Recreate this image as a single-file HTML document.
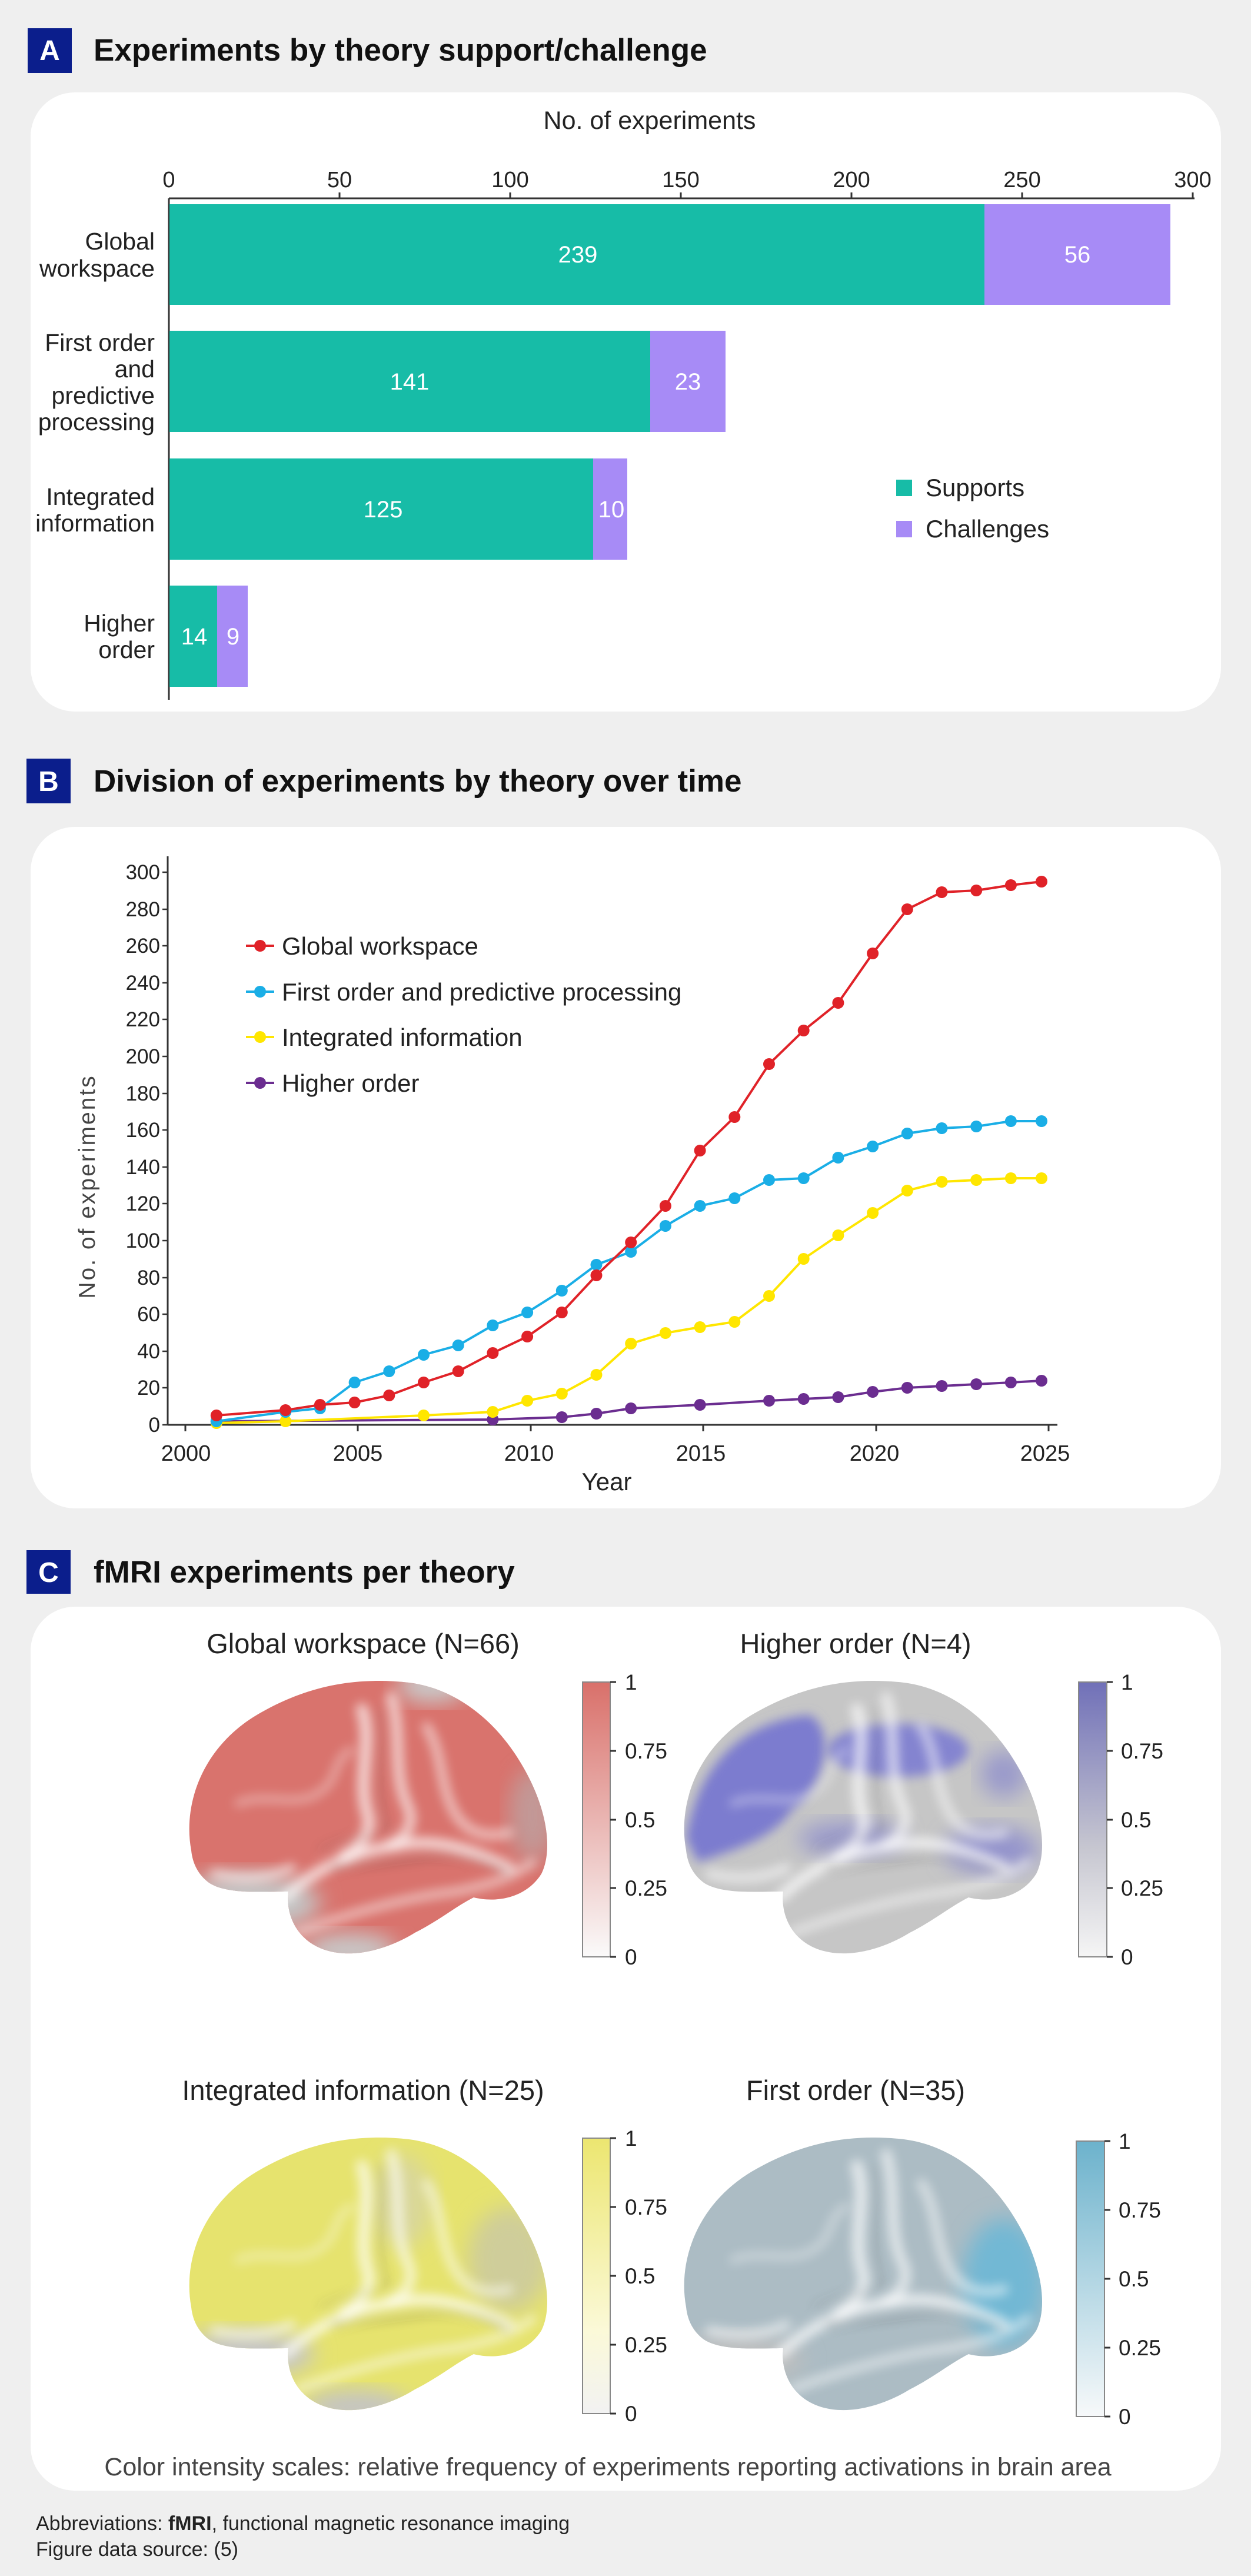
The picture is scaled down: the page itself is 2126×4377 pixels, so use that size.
<!DOCTYPE html>
<html><head><meta charset="utf-8"><style>
html,body{margin:0;padding:0;background:#efefef;}
svg{display:block}
text{font-family:"Liberation Sans",sans-serif;}
</style></head><body>
<svg width="2126" height="4377" viewBox="0 0 2126 4377" xmlns="http://www.w3.org/2000/svg">
<defs>
<clipPath id="brain" clipPathUnits="userSpaceOnUse">
<path d="M 20 300 C 5 220, 40 120, 140 65 C 220 20, 300 5, 390 15 C 470 25, 540 80, 585 160 C 625 230, 635 300, 615 340 C 590 380, 540 390, 500 380 C 470 395, 440 420, 400 440 C 360 465, 300 485, 250 470 C 200 455, 180 410, 185 370 C 140 370, 80 375, 50 355 C 30 340, 22 320, 20 300 Z"/>
</clipPath>
<filter id="bl" x="-20%" y="-20%" width="140%" height="140%"><feGaussianBlur stdDeviation="9"/></filter>
<filter id="bl2" x="-20%" y="-20%" width="140%" height="140%"><feGaussianBlur stdDeviation="18"/></filter>
<g id="gyri">
<g filter="url(#bl)" fill="none" stroke-linecap="round">
<path d="M 180 380 C 230 330, 300 300, 380 290 C 440 280, 500 300, 560 330" stroke="#fff" stroke-width="18" opacity="0.75"/>
<path d="M 200 440 C 280 410, 380 380, 470 370 C 520 360, 560 350, 600 320" stroke="#fff" stroke-width="14" opacity="0.55"/>
<path d="M 310 60 C 330 120, 300 180, 320 240 C 330 270, 300 300, 280 310" stroke="#fff" stroke-width="20" opacity="0.7"/>
<path d="M 360 40 C 380 110, 360 170, 390 230 C 400 260, 380 280, 360 290" stroke="#fff" stroke-width="18" opacity="0.65"/>
<path d="M 420 90 C 450 140, 440 190, 470 240 C 490 270, 520 280, 560 270" stroke="#fff" stroke-width="16" opacity="0.55"/>
<path d="M 100 220 C 150 200, 200 230, 240 200 C 270 180, 260 150, 290 130" stroke="#fff" stroke-width="14" opacity="0.35"/>
<path d="M 60 340 C 100 350, 150 350, 190 330" stroke="#fff" stroke-width="16" opacity="0.6"/>
<path d="M 260 330 C 320 320, 360 320, 420 310 C 470 305, 520 315, 560 340" stroke="#333" stroke-width="6" opacity="0.35"/>
<path d="M 340 60 C 350 130, 330 190, 350 260" stroke="#555" stroke-width="6" opacity="0.3"/>
<path d="M 240 300 C 300 270, 340 280, 360 260" stroke="#555" stroke-width="5" opacity="0.25"/>
</g>
</g>
</defs>

<!-- Panel A -->
<rect x="47" y="48" width="75" height="76" fill="#0b1e8c"/>
<text x="84.5" y="102" font-size="48" font-weight="bold" fill="#fff" text-anchor="middle">A</text>
<text x="159" y="103" font-size="53" font-weight="bold" fill="#111">Experiments by theory support/challenge</text>
<rect x="52" y="157" width="2023" height="1052" rx="75" fill="#fff"/>
<text x="1104" y="219" font-size="43" fill="#222" text-anchor="middle">No. of experiments</text>
<g font-size="38" fill="#222" text-anchor="middle">
<text x="287" y="318">0</text><text x="577" y="318">50</text><text x="867" y="318">100</text><text x="1157" y="318">150</text><text x="1447" y="318">200</text><text x="1737" y="318">250</text><text x="2027" y="318">300</text>
</g>
<g stroke="#333" stroke-width="3">
<line x1="287" y1="337" x2="2030" y2="337"/>
<line x1="287" y1="337" x2="287" y2="1189"/>
<line x1="577" y1="327" x2="577" y2="337"/><line x1="867" y1="327" x2="867" y2="337"/><line x1="1157" y1="327" x2="1157" y2="337"/><line x1="1447" y1="327" x2="1447" y2="337"/><line x1="1737" y1="327" x2="1737" y2="337"/><line x1="2027" y1="327" x2="2027" y2="337"/>
</g>
<rect x="288" y="347" width="1385" height="171" fill="#17bca7"/><rect x="1673" y="347" width="316" height="171" fill="#a78bf6"/>
<rect x="288" y="562" width="817" height="172" fill="#17bca7"/><rect x="1105" y="562" width="128" height="172" fill="#a78bf6"/>
<rect x="288" y="779" width="720" height="172" fill="#17bca7"/><rect x="1008" y="779" width="58" height="172" fill="#a78bf6"/>
<rect x="288" y="995" width="81" height="172" fill="#17bca7"/><rect x="369" y="995" width="52" height="172" fill="#a78bf6"/>
<g font-size="40" fill="#fff" text-anchor="middle">
<text x="982" y="446">239</text><text x="1831" y="446">56</text>
<text x="696" y="662">141</text><text x="1169" y="662">23</text>
<text x="651" y="879">125</text><text x="1039" y="879">10</text>
<text x="330" y="1095">14</text><text x="396" y="1095">9</text>
</g>
<g font-size="41" fill="#222" text-anchor="end">
<text x="263" y="424">Global</text><text x="263" y="470">workspace</text>
<text x="263" y="596">First order</text><text x="263" y="641">and</text><text x="263" y="686">predictive</text><text x="263" y="731">processing</text>
<text x="263" y="858">Integrated</text><text x="263" y="903">information</text>
<text x="263" y="1073">Higher</text><text x="263" y="1118">order</text>
</g>
<rect x="1523" y="815" width="27" height="28" fill="#17bca7"/>
<text x="1573" y="843" font-size="42" fill="#222">Supports</text>
<rect x="1523" y="885" width="27" height="28" fill="#a78bf6"/>
<text x="1573" y="913" font-size="42" fill="#222">Challenges</text>

<!-- Panel B -->
<rect x="45" y="1289" width="75" height="76" fill="#0b1e8c"/>
<text x="82.5" y="1344" font-size="48" font-weight="bold" fill="#fff" text-anchor="middle">B</text>
<text x="159" y="1345" font-size="53" font-weight="bold" fill="#111">Division of experiments by theory over time</text>
<rect x="52" y="1405" width="2023" height="1158" rx="75" fill="#fff"/>
<g stroke="#333" stroke-width="3">
<line x1="285" y1="1455" x2="285" y2="2421"/>
<line x1="285" y1="2421" x2="1797" y2="2421"/>
<line x1="315" y1="2421" x2="315" y2="2432"/><line x1="608" y1="2421" x2="608" y2="2432"/><line x1="902" y1="2421" x2="902" y2="2432"/><line x1="1195" y1="2421" x2="1195" y2="2432"/><line x1="1489" y1="2421" x2="1489" y2="2432"/><line x1="1782" y1="2421" x2="1782" y2="2432"/>
<g stroke-width="2.5">
<line x1="276" y1="2421" x2="285" y2="2421"/><line x1="276" y1="2358" x2="285" y2="2358"/><line x1="276" y1="2296" x2="285" y2="2296"/><line x1="276" y1="2233" x2="285" y2="2233"/><line x1="276" y1="2171" x2="285" y2="2171"/><line x1="276" y1="2108" x2="285" y2="2108"/><line x1="276" y1="2045" x2="285" y2="2045"/><line x1="276" y1="1983" x2="285" y2="1983"/><line x1="276" y1="1920" x2="285" y2="1920"/><line x1="276" y1="1858" x2="285" y2="1858"/><line x1="276" y1="1795" x2="285" y2="1795"/><line x1="276" y1="1732" x2="285" y2="1732"/><line x1="276" y1="1670" x2="285" y2="1670"/><line x1="276" y1="1607" x2="285" y2="1607"/><line x1="276" y1="1545" x2="285" y2="1545"/><line x1="276" y1="1482" x2="285" y2="1482"/>
</g>
</g>
<g font-size="35" fill="#222" text-anchor="end">
<text x="272" y="2433">0</text><text x="272" y="2370">20</text><text x="272" y="2308">40</text><text x="272" y="2245">60</text><text x="272" y="2183">80</text><text x="272" y="2120">100</text><text x="272" y="2057">120</text><text x="272" y="1995">140</text><text x="272" y="1932">160</text><text x="272" y="1870">180</text><text x="272" y="1807">200</text><text x="272" y="1744">220</text><text x="272" y="1682">240</text><text x="272" y="1619">260</text><text x="272" y="1557">280</text><text x="272" y="1494">300</text>
</g>
<g font-size="38" fill="#222" text-anchor="middle">
<text x="316" y="2482">2000</text><text x="608" y="2482">2005</text><text x="899" y="2482">2010</text><text x="1191" y="2482">2015</text><text x="1486" y="2482">2020</text><text x="1776" y="2482">2025</text>
<text x="1031" y="2532" font-size="42">Year</text>
</g>
<text transform="translate(161,2016) rotate(-90)" font-size="39" fill="#444" text-anchor="middle" letter-spacing="3">No. of experiments</text>

<g fill="none" stroke-width="4">
<polyline stroke="#6b2d90" points="367.8,2415 837.4,2412 954.8,2408 1013.5,2402 1072.2,2393 1189.6,2387 1307,2380 1365.7,2377 1424.4,2374 1483.1,2365 1541.8,2358 1600.5,2355 1659.2,2352 1717.9,2349 1770,2346"/>
<polyline stroke="#ffe600" points="367.8,2418 485.2,2415 720,2405 837.4,2399 896.1,2380 954.8,2368 1013.5,2336 1072.2,2283 1130.9,2265 1189.6,2255 1248.3,2246 1307,2202 1365.7,2139 1424.4,2099 1483.1,2061 1541.8,2023 1600.5,2008 1659.2,2005 1717.9,2002 1770,2002"/>
<polyline stroke="#1aaee6" points="367.8,2415 485.2,2399 543.9,2393 602.6,2349 661.3,2330 720,2302 778.7,2286 837.4,2252 896.1,2230 954.8,2193 1013.5,2149 1072.2,2127 1130.9,2083 1189.6,2049 1248.3,2036 1307,2005 1365.7,2002 1424.4,1967 1483.1,1948 1541.8,1926 1600.5,1917 1659.2,1914 1717.9,1905 1770,1905"/>
<polyline stroke="#e02228" points="367.8,2405 485.2,2396 543.9,2387 602.6,2383 661.3,2371 720,2349 778.7,2330 837.4,2299 896.1,2271 954.8,2230 1013.5,2167 1072.2,2111 1130.9,2049 1189.6,1955 1248.3,1898 1307,1808 1365.7,1751 1424.4,1704 1483.1,1620 1541.8,1545 1600.5,1516 1659.2,1513 1717.9,1504 1770,1498"/>
</g>
<g fill="#6b2d90">
<circle cx="367.8" cy="2415" r="10"/><circle cx="837.4" cy="2412" r="10"/><circle cx="954.8" cy="2408" r="10"/><circle cx="1013.5" cy="2402" r="10"/><circle cx="1072.2" cy="2393" r="10"/><circle cx="1189.6" cy="2387" r="10"/><circle cx="1307" cy="2380" r="10"/><circle cx="1365.7" cy="2377" r="10"/><circle cx="1424.4" cy="2374" r="10"/><circle cx="1483.1" cy="2365" r="10"/><circle cx="1541.8" cy="2358" r="10"/><circle cx="1600.5" cy="2355" r="10"/><circle cx="1659.2" cy="2352" r="10"/><circle cx="1717.9" cy="2349" r="10"/><circle cx="1770" cy="2346" r="10"/>
</g>
<g fill="#ffe600">
<circle cx="367.8" cy="2418" r="10"/><circle cx="485.2" cy="2415" r="10"/><circle cx="720" cy="2405" r="10"/><circle cx="837.4" cy="2399" r="10"/><circle cx="896.1" cy="2380" r="10"/><circle cx="954.8" cy="2368" r="10"/><circle cx="1013.5" cy="2336" r="10"/><circle cx="1072.2" cy="2283" r="10"/><circle cx="1130.9" cy="2265" r="10"/><circle cx="1189.6" cy="2255" r="10"/><circle cx="1248.3" cy="2246" r="10"/><circle cx="1307" cy="2202" r="10"/><circle cx="1365.7" cy="2139" r="10"/><circle cx="1424.4" cy="2099" r="10"/><circle cx="1483.1" cy="2061" r="10"/><circle cx="1541.8" cy="2023" r="10"/><circle cx="1600.5" cy="2008" r="10"/><circle cx="1659.2" cy="2005" r="10"/><circle cx="1717.9" cy="2002" r="10"/><circle cx="1770" cy="2002" r="10"/>
</g>
<g fill="#1aaee6">
<circle cx="367.8" cy="2415" r="10"/><circle cx="485.2" cy="2399" r="10"/><circle cx="543.9" cy="2393" r="10"/><circle cx="602.6" cy="2349" r="10"/><circle cx="661.3" cy="2330" r="10"/><circle cx="720" cy="2302" r="10"/><circle cx="778.7" cy="2286" r="10"/><circle cx="837.4" cy="2252" r="10"/><circle cx="896.1" cy="2230" r="10"/><circle cx="954.8" cy="2193" r="10"/><circle cx="1013.5" cy="2149" r="10"/><circle cx="1072.2" cy="2127" r="10"/><circle cx="1130.9" cy="2083" r="10"/><circle cx="1189.6" cy="2049" r="10"/><circle cx="1248.3" cy="2036" r="10"/><circle cx="1307" cy="2005" r="10"/><circle cx="1365.7" cy="2002" r="10"/><circle cx="1424.4" cy="1967" r="10"/><circle cx="1483.1" cy="1948" r="10"/><circle cx="1541.8" cy="1926" r="10"/><circle cx="1600.5" cy="1917" r="10"/><circle cx="1659.2" cy="1914" r="10"/><circle cx="1717.9" cy="1905" r="10"/><circle cx="1770" cy="1905" r="10"/>
</g>
<g fill="#e02228">
<circle cx="367.8" cy="2405" r="10"/><circle cx="485.2" cy="2396" r="10"/><circle cx="543.9" cy="2387" r="10"/><circle cx="602.6" cy="2383" r="10"/><circle cx="661.3" cy="2371" r="10"/><circle cx="720" cy="2349" r="10"/><circle cx="778.7" cy="2330" r="10"/><circle cx="837.4" cy="2299" r="10"/><circle cx="896.1" cy="2271" r="10"/><circle cx="954.8" cy="2230" r="10"/><circle cx="1013.5" cy="2167" r="10"/><circle cx="1072.2" cy="2111" r="10"/><circle cx="1130.9" cy="2049" r="10"/><circle cx="1189.6" cy="1955" r="10"/><circle cx="1248.3" cy="1898" r="10"/><circle cx="1307" cy="1808" r="10"/><circle cx="1365.7" cy="1751" r="10"/><circle cx="1424.4" cy="1704" r="10"/><circle cx="1483.1" cy="1620" r="10"/><circle cx="1541.8" cy="1545" r="10"/><circle cx="1600.5" cy="1516" r="10"/><circle cx="1659.2" cy="1513" r="10"/><circle cx="1717.9" cy="1504" r="10"/><circle cx="1770" cy="1498" r="10"/>
</g>
<!-- legend -->
<g stroke-width="4">
<line x1="418" y1="1607" x2="466" y2="1607" stroke="#e02228"/><circle cx="442" cy="1607" r="10" fill="#e02228"/>
<line x1="418" y1="1685" x2="466" y2="1685" stroke="#1aaee6"/><circle cx="442" cy="1685" r="10" fill="#1aaee6"/>
<line x1="418" y1="1762" x2="466" y2="1762" stroke="#ffe600"/><circle cx="442" cy="1762" r="10" fill="#ffe600"/>
<line x1="418" y1="1840" x2="466" y2="1840" stroke="#6b2d90"/><circle cx="442" cy="1840" r="10" fill="#6b2d90"/>
</g>
<g font-size="42" fill="#222">
<text x="479" y="1622">Global workspace</text>
<text x="479" y="1700">First order and predictive processing</text>
<text x="479" y="1777">Integrated information</text>
<text x="479" y="1855">Higher order</text>
</g>

<!-- Panel C -->
<rect x="45" y="2634" width="75" height="74" fill="#0b1e8c"/>
<text x="82.5" y="2688" font-size="48" font-weight="bold" fill="#fff" text-anchor="middle">C</text>
<text x="159" y="2689" font-size="53" font-weight="bold" fill="#111">fMRI experiments per theory</text>
<rect x="52" y="2730" width="2023" height="1502" rx="75" fill="#fff"/>
<g font-size="47" fill="#222" text-anchor="middle">
<text x="617" y="2809">Global workspace (N=66)</text>
<text x="1454" y="2809">Higher order (N=4)</text>
<text x="617" y="3568">Integrated information (N=25)</text>
<text x="1454" y="3568">First order (N=35)</text>
</g>

<!-- Brain 1 red -->
<g transform="translate(305,2844)">
<g clip-path="url(#brain)">
<rect x="0" y="0" width="640" height="490" fill="#d9736d"/>
<ellipse cx="110" cy="390" rx="130" ry="50" fill="#c4c4c4" filter="url(#bl2)"/>
<ellipse cx="290" cy="470" rx="80" ry="30" fill="#c8c8c8" filter="url(#bl2)"/>
<ellipse cx="600" cy="240" rx="40" ry="80" fill="#b9a9a9" filter="url(#bl2)" opacity="0.7"/>
<ellipse cx="430" cy="20" rx="60" ry="30" fill="#c9c9c9" filter="url(#bl2)"/>
<use href="#gyri"/>
</g>
</g>
<!-- Brain 2 purple -->
<g transform="translate(1146,2844)">
<g clip-path="url(#brain)">
<rect x="0" y="0" width="640" height="490" fill="#c6c6c6"/>
<path d="M 20 280 C 40 150, 120 80, 230 70 C 280 100, 250 200, 200 230 C 170 280, 100 300, 40 320 Z" fill="#7c7ccf" filter="url(#bl)"/>
<ellipse cx="380" cy="130" rx="120" ry="45" fill="#8484d0" filter="url(#bl)"/>
<ellipse cx="300" cy="280" rx="90" ry="30" fill="#9a9acb" filter="url(#bl2)"/>
<ellipse cx="540" cy="300" rx="80" ry="40" fill="#9494cc" filter="url(#bl2)"/>
<ellipse cx="560" cy="170" rx="40" ry="40" fill="#9a9acb" filter="url(#bl2)"/>
<use href="#gyri"/>
</g>
</g>
<!-- Brain 3 yellow -->
<g transform="translate(305,3620)">
<g clip-path="url(#brain)">
<rect x="0" y="0" width="640" height="490" fill="#e6e36e"/>
<ellipse cx="110" cy="380" rx="120" ry="40" fill="#c6c6c6" filter="url(#bl2)"/>
<ellipse cx="300" cy="470" rx="90" ry="30" fill="#c4c4c4" filter="url(#bl2)"/>
<ellipse cx="560" cy="220" rx="70" ry="90" fill="#cfcd9a" filter="url(#bl2)"/>
<ellipse cx="380" cy="120" rx="50" ry="80" fill="#d9d79a" filter="url(#bl2)"/>
<use href="#gyri"/>
</g>
</g>
<!-- Brain 4 blue-gray -->
<g transform="translate(1146,3620)">
<g clip-path="url(#brain)">
<rect x="0" y="0" width="640" height="490" fill="#acbcc4"/>
<ellipse cx="560" cy="260" rx="70" ry="110" fill="#72b8d4" filter="url(#bl2)"/>
<ellipse cx="100" cy="390" rx="120" ry="40" fill="#bfbfbf" filter="url(#bl2)"/>
<use href="#gyri"/>
</g>
</g>

<!-- colorbars -->
<defs>
<linearGradient id="cr" x1="0" y1="1" x2="0" y2="0"><stop offset="0" stop-color="#fafafa"/><stop offset="1" stop-color="#d9706a"/></linearGradient>
<linearGradient id="cp" x1="0" y1="1" x2="0" y2="0"><stop offset="0" stop-color="#f5f5f5"/><stop offset="0.4" stop-color="#c6c6d0"/><stop offset="1" stop-color="#7070b8"/></linearGradient>
<linearGradient id="cy" x1="0" y1="1" x2="0" y2="0"><stop offset="0" stop-color="#f2f2f2"/><stop offset="0.3" stop-color="#fbf9d8"/><stop offset="1" stop-color="#ece670"/></linearGradient>
<linearGradient id="cb" x1="0" y1="1" x2="0" y2="0"><stop offset="0" stop-color="#f7f9fa"/><stop offset="1" stop-color="#6cb2cc"/></linearGradient>
</defs>
<g stroke="#888" stroke-width="2">
<rect x="990" y="2858" width="47" height="467" fill="url(#cr)"/>
<rect x="1833" y="2858" width="48" height="467" fill="url(#cp)"/>
<rect x="990" y="3633" width="47" height="468" fill="url(#cy)"/>
<rect x="1829" y="3638" width="48" height="468" fill="url(#cb)"/>
</g>
<g stroke="#333" stroke-width="3">
<line x1="1037" y1="2858" x2="1047" y2="2858"/><line x1="1037" y1="2975" x2="1047" y2="2975"/><line x1="1037" y1="3092" x2="1047" y2="3092"/><line x1="1037" y1="3208" x2="1047" y2="3208"/><line x1="1037" y1="3325" x2="1047" y2="3325"/>
<line x1="1881" y1="2858" x2="1891" y2="2858"/><line x1="1881" y1="2975" x2="1891" y2="2975"/><line x1="1881" y1="3092" x2="1891" y2="3092"/><line x1="1881" y1="3208" x2="1891" y2="3208"/><line x1="1881" y1="3325" x2="1891" y2="3325"/>
<line x1="1037" y1="3633" x2="1047" y2="3633"/><line x1="1037" y1="3750" x2="1047" y2="3750"/><line x1="1037" y1="3867" x2="1047" y2="3867"/><line x1="1037" y1="3984" x2="1047" y2="3984"/><line x1="1037" y1="4101" x2="1047" y2="4101"/>
<line x1="1877" y1="3638" x2="1887" y2="3638"/><line x1="1877" y1="3755" x2="1887" y2="3755"/><line x1="1877" y1="3872" x2="1887" y2="3872"/><line x1="1877" y1="3989" x2="1887" y2="3989"/><line x1="1877" y1="4106" x2="1887" y2="4106"/>
</g>
<g font-size="37" fill="#222">
<text x="1062" y="2871">1</text><text x="1062" y="2988">0.75</text><text x="1062" y="3105">0.5</text><text x="1062" y="3221">0.25</text><text x="1062" y="3338">0</text>
<text x="1905" y="2871">1</text><text x="1905" y="2988">0.75</text><text x="1905" y="3105">0.5</text><text x="1905" y="3221">0.25</text><text x="1905" y="3338">0</text>
<text x="1062" y="3646">1</text><text x="1062" y="3763">0.75</text><text x="1062" y="3880">0.5</text><text x="1062" y="3997">0.25</text><text x="1062" y="4114">0</text>
<text x="1901" y="3651">1</text><text x="1901" y="3768">0.75</text><text x="1901" y="3885">0.5</text><text x="1901" y="4002">0.25</text><text x="1901" y="4119">0</text>
</g>
<text x="1033" y="4206" font-size="43" fill="#444" text-anchor="middle">Color intensity scales: relative frequency of experiments reporting activations in brain area</text>
<text x="61" y="4299" font-size="34" fill="#222">Abbreviations: <tspan font-weight="bold">fMRI</tspan>, functional magnetic resonance imaging</text>
<text x="61" y="4343" font-size="34" fill="#222">Figure data source: (5)</text>
</svg>
</body></html>
